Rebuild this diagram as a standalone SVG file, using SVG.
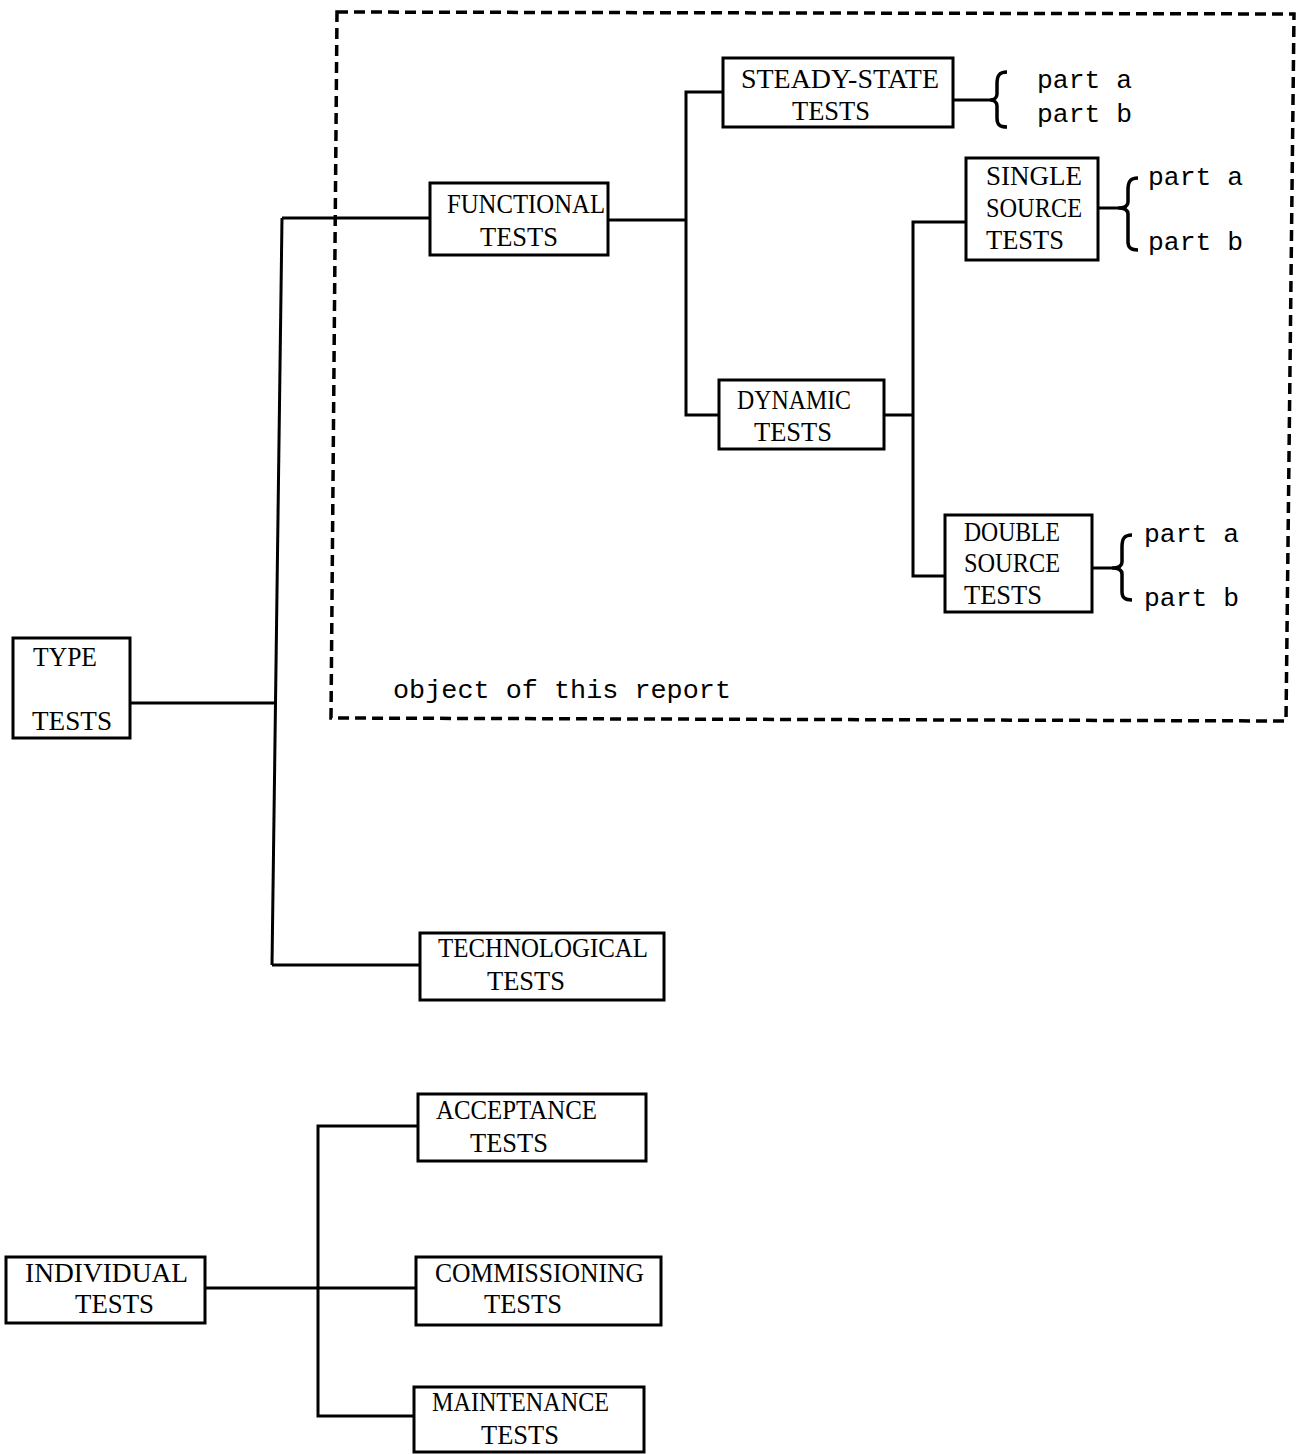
<svg xmlns="http://www.w3.org/2000/svg" width="1302" height="1454" viewBox="0 0 1302 1454">
<style>
.box{fill:#fff;stroke:#000;stroke-width:3}
.t{font-family:"Liberation Serif","DejaVu Serif",serif;font-size:28px;fill:#000}
.m{font-family:"Liberation Mono","DejaVu Sans Mono",monospace;font-size:26px;fill:#000}
.c{fill:none;stroke:#000;stroke-width:3}
.d{fill:none;stroke:#000;stroke-width:3.5;stroke-dasharray:11 6}
.br{fill:none;stroke:#000;stroke-width:3.5}
</style>
<rect width="1302" height="1454" fill="#fff"/>
<g id="scope">
<path class="d" d="M337,12 L1294,14 L1286,721 L331,718 Z"/>
<text class="m" x="393" y="698" textLength="338" lengthAdjust="spacingAndGlyphs">object of this report</text>
</g>
<g id="connectors">
<path class="c" d="M130,703 L277,703"/>
<path class="c" d="M282,218 L272,965"/>
<path class="c" d="M282,218 L430,218"/>
<path class="c" d="M272,965 L420,965"/>
<path class="c" d="M608,220 L686,220"/>
<path class="c" d="M723,92 L686,92 L686,415 L719,415"/>
<path class="c" d="M884,415 L913,415"/>
<path class="c" d="M966,222 L913,222 L913,576 L945,576"/>
<path class="c" d="M953,100 L990,100"/>
<path class="c" d="M1098,208 L1118,208"/>
<path class="c" d="M1092,568 L1112,568"/>
<path class="c" d="M205,1288 L416,1288"/>
<path class="c" d="M418,1126 L318,1126 L318,1416 L415,1416"/>
</g>
<g id="type-tests">
<rect class="box" x="13" y="638" width="117" height="100"/>
<text class="t" x="33" y="666" textLength="64" lengthAdjust="spacingAndGlyphs">TYPE</text>
<text class="t" x="32" y="730" textLength="80" lengthAdjust="spacingAndGlyphs">TESTS</text>
</g>
<g id="functional-tests">
<rect class="box" x="430" y="183" width="178" height="72"/>
<text class="t" x="447" y="213" textLength="158" lengthAdjust="spacingAndGlyphs">FUNCTIONAL</text>
<text class="t" x="480" y="246" textLength="78" lengthAdjust="spacingAndGlyphs">TESTS</text>
</g>
<g id="steady-state-tests">
<rect class="box" x="723" y="58" width="230" height="69"/>
<text class="t" x="741" y="88" textLength="198" lengthAdjust="spacingAndGlyphs">STEADY-STATE</text>
<text class="t" x="792" y="120" textLength="78" lengthAdjust="spacingAndGlyphs">TESTS</text>
<path class="br" d="M1007,72 C999,72 997,76 997,84 L997,94 C997,98 994,100 990,100 C994,100 997,102 997,106 L997,118 C997,125 1000,127 1007,127"/>
<text class="m" x="1037" y="88" textLength="95" lengthAdjust="spacingAndGlyphs">part a</text>
<text class="m" x="1037" y="122" textLength="95" lengthAdjust="spacingAndGlyphs">part b</text>
</g>
<g id="dynamic-tests">
<rect class="box" x="719" y="380" width="165" height="69"/>
<text class="t" x="737" y="409" textLength="114" lengthAdjust="spacingAndGlyphs">DYNAMIC</text>
<text class="t" x="754" y="441" textLength="78" lengthAdjust="spacingAndGlyphs">TESTS</text>
</g>
<g id="single-source-tests">
<rect class="box" x="966" y="158" width="132" height="102"/>
<text class="t" x="986" y="185" textLength="96" lengthAdjust="spacingAndGlyphs">SINGLE</text>
<text class="t" x="986" y="217" textLength="96" lengthAdjust="spacingAndGlyphs">SOURCE</text>
<text class="t" x="986" y="249" textLength="78" lengthAdjust="spacingAndGlyphs">TESTS</text>
<path class="br" d="M1138,178 C1130,178 1128,182 1128,190 L1128,202 C1128,206 1124,208 1118,208 C1124,208 1128,210 1128,214 L1128,242 C1128,248 1131,250 1138,250"/>
<text class="m" x="1148" y="185" textLength="95" lengthAdjust="spacingAndGlyphs">part a</text>
<text class="m" x="1148" y="250" textLength="95" lengthAdjust="spacingAndGlyphs">part b</text>
</g>
<g id="double-source-tests">
<rect class="box" x="945" y="515" width="147" height="97"/>
<text class="t" x="964" y="541" textLength="96" lengthAdjust="spacingAndGlyphs">DOUBLE</text>
<text class="t" x="964" y="572" textLength="96" lengthAdjust="spacingAndGlyphs">SOURCE</text>
<text class="t" x="964" y="604" textLength="78" lengthAdjust="spacingAndGlyphs">TESTS</text>
<path class="br" d="M1132,535 C1124,535 1122,539 1122,547 L1122,562 C1122,566 1118,568 1112,568 C1118,568 1122,570 1122,574 L1122,592 C1122,598 1125,600 1132,600"/>
<text class="m" x="1144" y="542" textLength="95" lengthAdjust="spacingAndGlyphs">part a</text>
<text class="m" x="1144" y="606" textLength="95" lengthAdjust="spacingAndGlyphs">part b</text>
</g>
<g id="technological-tests">
<rect class="box" x="420" y="933" width="244" height="67"/>
<text class="t" x="438" y="957" textLength="210" lengthAdjust="spacingAndGlyphs">TECHNOLOGICAL</text>
<text class="t" x="487" y="990" textLength="78" lengthAdjust="spacingAndGlyphs">TESTS</text>
</g>
<g id="individual-tests">
<rect class="box" x="6" y="1257" width="199" height="66"/>
<text class="t" x="25" y="1282" textLength="163" lengthAdjust="spacingAndGlyphs">INDIVIDUAL</text>
<text class="t" x="75" y="1313" textLength="79" lengthAdjust="spacingAndGlyphs">TESTS</text>
</g>
<g id="acceptance-tests">
<rect class="box" x="418" y="1094" width="228" height="67"/>
<text class="t" x="436" y="1119" textLength="161" lengthAdjust="spacingAndGlyphs">ACCEPTANCE</text>
<text class="t" x="470" y="1152" textLength="78" lengthAdjust="spacingAndGlyphs">TESTS</text>
</g>
<g id="commissioning-tests">
<rect class="box" x="416" y="1257" width="245" height="68"/>
<text class="t" x="435" y="1282" textLength="209" lengthAdjust="spacingAndGlyphs">COMMISSIONING</text>
<text class="t" x="484" y="1313" textLength="78" lengthAdjust="spacingAndGlyphs">TESTS</text>
</g>
<g id="maintenance-tests">
<rect class="box" x="414" y="1387" width="230" height="65"/>
<text class="t" x="432" y="1411" textLength="177" lengthAdjust="spacingAndGlyphs">MAINTENANCE</text>
<text class="t" x="481" y="1444" textLength="78" lengthAdjust="spacingAndGlyphs">TESTS</text>
</g>
</svg>
